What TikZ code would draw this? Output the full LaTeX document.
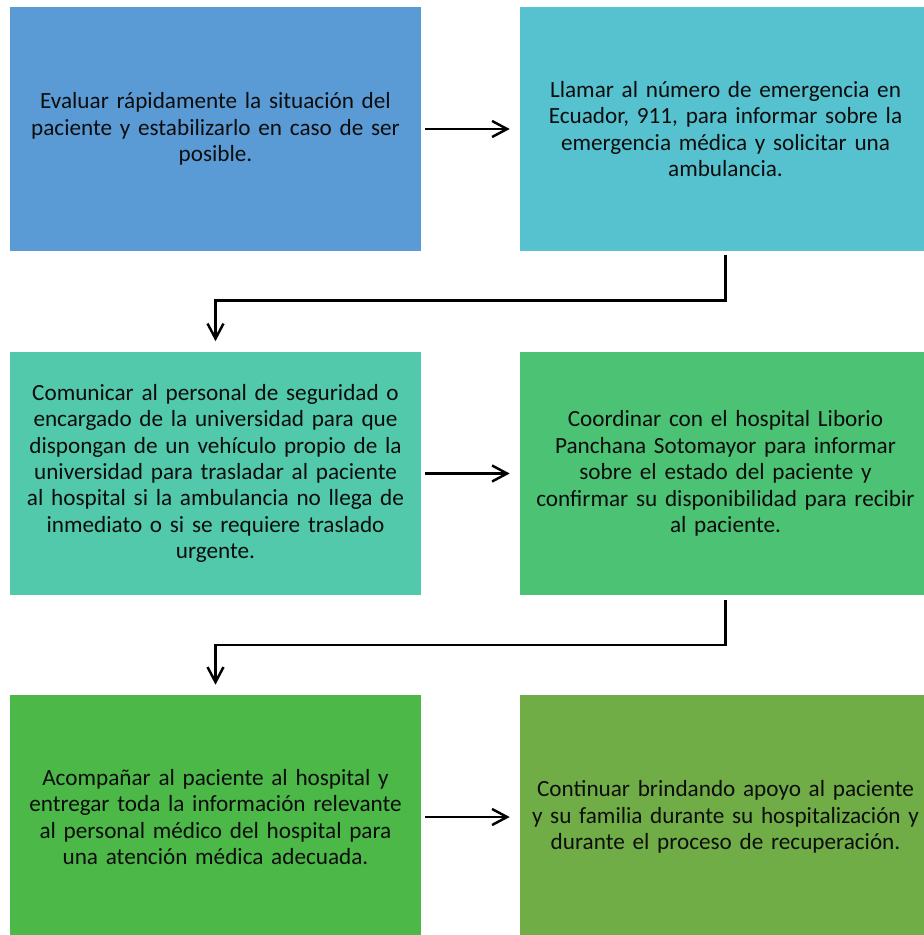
\documentclass[tikz,border=0pt]{standalone}
\usepackage{fontspec}
\setmainfont{Carlito}
\usetikzlibrary{arrows.meta}

\definecolor{azul}{HTML}{5B9BD5}
\definecolor{cian}{HTML}{56C2D0}
\definecolor{turquesa}{HTML}{52C9AB}
\definecolor{verde}{HTML}{4CC274}
\definecolor{verdeosc}{HTML}{4BB848}
\definecolor{oliva}{HTML}{70AD47}

\begin{document}
\begin{tikzpicture}[x = 0.02cm, y = -0.02cm,
        paso/.style = {rectangle, inner sep = 0pt, minimum width = 8.22cm, minimum height = 4.88cm,
                       text width = 8.1cm, align = center, text = black!95, font = \fontsize{13.2}{15}\selectfont},
        flecha/.style = {line width = 1.4pt, -{Straight Barb[length = 0.3cm, width = 0.32cm]},
                         shorten <= 0.08cm, shorten >= 0.2cm}]
        \useasboundingbox (0,0) rectangle (923,935);

        % fila 1
        \node [paso, fill=azul] (evaluar) at (215.5,129)
            {Evaluar rápidamente la situación del\\ paciente y estabilizarlo en caso de ser\\ posible.};
        \node [paso, fill=cian] (llamar) at (725.5,129)
            {Llamar al número de emergencia en\\ Ecuador, 911, para informar sobre la\\ emergencia médica y solicitar una\\ ambulancia.};

        % fila 2
        \node [paso, fill=turquesa] (comunicar) at (215.5,473.5)
            {Comunicar al personal de seguridad o\\ encargado de la universidad para que\\ dispongan de un vehículo propio de la\\ universidad para trasladar al paciente\\ al hospital si la ambulancia no llega de\\ inmediato o si se requiere traslado\\ urgente.};
        \node [paso, fill=verde] (coordinar) at (725.5,473.5)
            {Coordinar con el hospital Liborio\\ Panchana Sotomayor para informar\\ sobre el estado del paciente y\\ confirmar su disponibilidad para recibir\\ al paciente.};

        % fila 3
        \node [paso, fill=verdeosc] (acompanar) at (215.5,817)
            {Acompañar al paciente al hospital y\\ entregar toda la información relevante\\ al personal médico del hospital para\\ una atención médica adecuada.};
        \node [paso, fill=oliva] (continuar) at (725.5,817)
            {Continuar brindando apoyo al paciente\\ y su familia durante su hospitalización y\\ durante el proceso de recuperación.};

        % flechas
        \draw [flecha] (evaluar) -- (llamar);
        \draw [flecha] (llamar.south) -- ++(0,49) -| (comunicar.north);
        \draw [flecha] (comunicar) -- (coordinar);
        \draw [flecha] (coordinar.south) -- ++(0,49) -| (acompanar.north);
        \draw [flecha] (acompanar) -- (continuar);

\end{tikzpicture}
\end{document}
